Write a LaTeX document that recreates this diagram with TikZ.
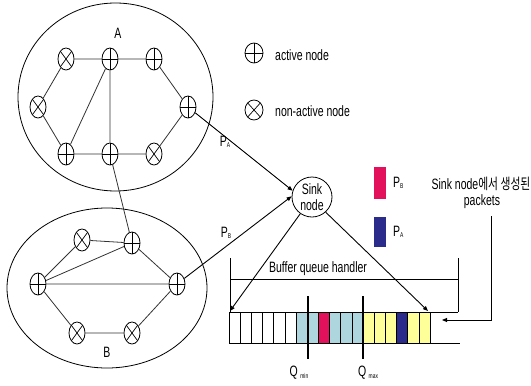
\documentclass[tikz,border=0pt]{standalone}
\usepackage{fontspec}
\setmainfont{Liberation Sans}[FakeStretch=0.7]
\newfontfamily\kr{Noto Sans CJK KR}[FakeStretch=0.72]
\usetikzlibrary{shapes.geometric,arrows.meta}
\definecolor{qpink}{HTML}{E3105C}
\definecolor{qnavy}{HTML}{2B2B8C}
\definecolor{qblue}{HTML}{ADD6DE}
\definecolor{qyellow}{HTML}{FFFF99}
\newcommand{\sbs}[1]{{\fontsize{7}{7}\selectfont\raisebox{-1.5pt}{#1}}}
\begin{document}
\begin{tikzpicture}[x=1pt,y=-1pt,
  font=\fontsize{15}{16}\selectfont,
  act/.style={ellipse,draw,line width=0.8pt,minimum width=16pt,minimum height=22pt,inner sep=0pt,
    path picture={\draw[line width=0.8pt] (path picture bounding box.north)--(path picture bounding box.south)
      (path picture bounding box.west)--(path picture bounding box.east);}},
  nact/.style={ellipse,draw,line width=0.8pt,minimum width=16pt,minimum height=22pt,inner sep=0pt,
    path picture={\draw[line width=0.7pt] (path picture bounding box.north west)--(path picture bounding box.south east)
      (path picture bounding box.north east)--(path picture bounding box.south west);}},
  edge/.style={draw=black!80,line width=0.8pt},
  arr/.style={-{Triangle[length=5pt,width=4pt]},line width=0.9pt},
  lbl/.style={inner sep=0pt}]
\useasboundingbox (0,0) rectangle (531,386);

% clusters
\node[ellipse,draw,line width=0.8pt,minimum width=195pt,minimum height=188pt] (clA) at (115.5,97) {};
\node[ellipse,draw,line width=0.8pt,minimum width=200pt,minimum height=160pt] (clB) at (107,288) {};
\node[lbl] (labA) at (118,33) {A};
\node[lbl] (labB) at (107,352) {B};

% nodes of A
\node[nact] (a1) at (66,59) {};
\node[act]  (a2) at (110,59) {};
\node[act]  (a3) at (154,59) {};
\node[act]  (a4) at (188,107) {};
\node[nact] (a5) at (154,154) {};
\node[act]  (a6) at (110,154) {};
\node[act]  (a7) at (66,154) {};
\node[nact] (a8) at (38,107) {};
\draw[edge] (a1)--(a2) (a2)--(a3) (a3)--(a4) (a4)--(a5) (a5)--(a6) (a6)--(a7) (a7)--(a8) (a8)--(a1)
  (a2)--(a7) (a2)--(a6);

% nodes of B
\node[nact] (b1) at (82,240) {};
\node[act]  (b2) at (132,243) {};
\node[act]  (b3) at (38,284) {};
\node[act]  (b4) at (177,284) {};
\node[nact] (b5) at (77,333) {};
\node[nact] (b6) at (132,333) {};
\draw[edge] (b1)--(b2) (b3)--(b1) (b3)--(b2) (b3)--(b4) (b2)--(b4) (b3)--(b5) (b5)--(b6) (b6)--(b4);
\draw[edge] (a6)--(b2);

% legend
\node[act,minimum width=18pt,minimum height=20pt] (lgA) at (254,53) {};
\node[nact,minimum width=18pt,minimum height=20pt] (lgN) at (254,110) {};
\node[lbl,anchor=west] (lgAt) at (275,55) {active node};
\node[lbl,anchor=west] (lgNt) at (275,111) {non-active node};

% sink
\node[circle,draw,line width=0.8pt,minimum size=40pt,inner sep=0pt,align=center] (sink) at (312,197) {Sink\\node};
\draw[arr] (a4) -- (sink.162);
\draw[arr] (b4) -- (sink.178);
\node[lbl] (pA) at (225,142) {P\sbs{A}};
\node[lbl] (pB) at (226,233) {P\sbs{B}};

% packet legend
\fill[qpink] (374,167) rectangle (386,199);
\fill[qnavy] (374,217) rectangle (386,247);
\node[lbl,anchor=west] (lgPB) at (393,183) {P\sbs{B}};
\node[lbl,anchor=west] (lgPA) at (393,232) {P\sbs{A}};
\node[lbl] (gen) at (481,184) {Sink node{\kr 에서 생성된}};
\node[lbl] (pk) at (482,202) {packets};

% buffer handler bracket
\draw[line width=0.9pt] (230,258)--(230,312) (458,258)--(458,312) (230,279)--(458,279);
\node[lbl] (buf) at (318,269) {Buffer queue handler};

% queue cells
\foreach \i/\c in {0/white,1/white,2/white,3/white,4/white,5/white,6/qblue,7/qblue,8/qpink,9/qblue,10/qblue,11/qblue,12/qyellow,13/qyellow,14/qyellow,15/qnavy,16/qyellow,17/qyellow}{
  \filldraw[fill=\c,draw=black,line width=0.7pt] ({229+\i*11.17},312) rectangle ({229+(\i+1)*11.17},343);
}
\draw[line width=0.9pt] (229,312)--(458,312) (229,343)--(460,343);
\draw[line width=1.1pt] (308,296)--(308,359) (363,296)--(363,359);
\node[lbl] (qmin) at (299,373) {Q\,\sbs{min}};
\node[lbl] (qmax) at (368,373) {Q\,\sbs{max}};

% sink to queue
\coordinate (qL) at (230,311);
\coordinate (qR) at (428,311);
\draw[arr] (sink.235) -- (qL);
\draw[arr] (sink.312) -- (qR);

% packets arrow
\coordinate (pktop) at (491,216);
\coordinate (pkend) at (442,320);
\draw[arr] (pktop) |- (pkend);
\end{tikzpicture}
\end{document}
